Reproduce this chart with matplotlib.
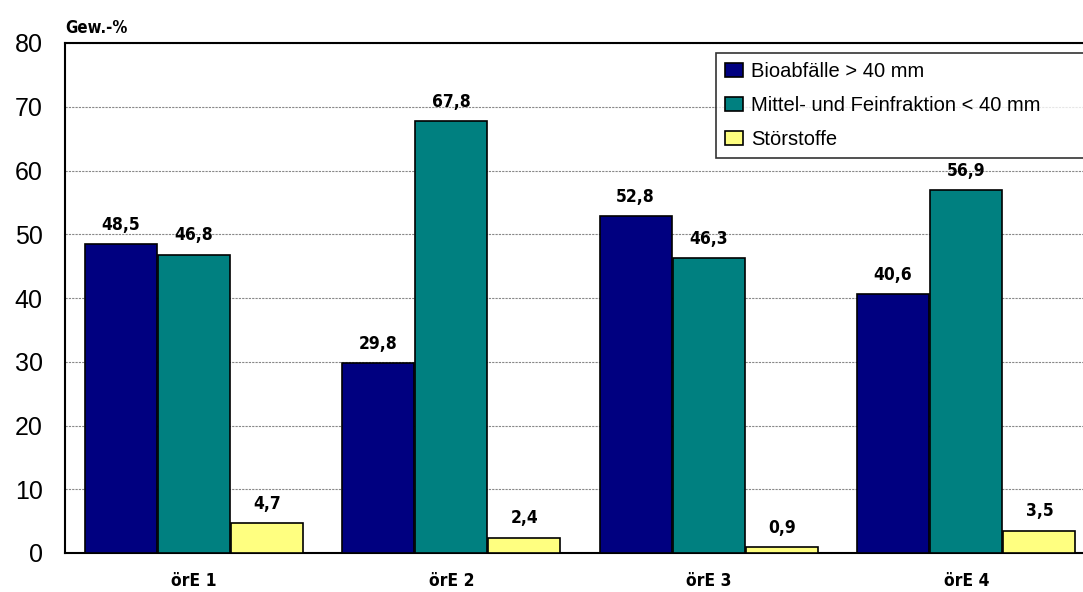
import matplotlib
matplotlib.use("Agg")
import matplotlib.pyplot as plt
from matplotlib import font_manager
import numpy as np

# data
gruppen = ["örE 1", "örE 2", "örE 3", "örE 4"]
serien = ["Bioabfälle > 40 mm", "Mittel- und Feinfraktion < 40 mm", "Störstoffe"]
bio = [48.5, 29.8, 52.8, 40.6]
mittel = [46.8, 67.8, 46.3, 56.9]
stoer = [4.7, 2.4, 0.9, 3.5]
farben = ["#000080", "#008080", "#FFFF80"]

plt.rcParams['font.family'] = ['Liberation Sans', 'DejaVu Sans']
namen = set(f.name for f in font_manager.fontManager.ttflist)
if 'Liberation Sans Narrow' in namen:
    narrow = dict(family=['Liberation Sans Narrow', 'DejaVu Sans'])
else:
    narrow = dict(family=['DejaVu Sans'], fontstretch='condensed')

fig = plt.figure(figsize=(10.83, 5.92), dpi=100)
ax = fig.add_axes([65/1083, 1-553/592, 1030/1083, 510/592])

x = np.arange(len(gruppen))
w = 0.284
werte = [bio, mittel, stoer]
for i, (vals, col, lab) in enumerate(zip(werte, farben, serien)):
    pos = x + (i-1)*w
    ax.bar(pos, vals, width=w*0.985, color=col, edgecolor='black', linewidth=1.2, label=lab, zorder=3)
    for px, v in zip(pos, vals):
        ax.text(px, v + 1.6, ("%.1f" % v).replace('.', ','), ha='center', va='bottom',
                fontsize=12.5, fontweight='bold', **narrow)

ax.set_xlim(-0.5, 3.5)
ax.set_ylim(0, 80)
ax.set_yticks(range(0, 81, 10))
ax.tick_params(axis='y', labelsize=18, length=0, pad=16)
ax.tick_params(axis='x', length=0, pad=14)
ax.set_xticks(x)
ax.set_xticklabels(gruppen, fontsize=12.5, fontweight='bold', **narrow)
ax.yaxis.grid(True, linestyle=(0, (2, 1)), color='#888888', linewidth=0.8, zorder=0)
for s in ax.spines.values():
    s.set_linewidth(1.5)
ax.spines['right'].set_visible(False)

fig.text(65/1083, 1-28/592, "Gew.-%", fontsize=12, fontweight='bold', va='center', **narrow)

# legend box runs past the right edge like in the original
x0 = (716-65)/1030
y0 = (553-53)/510
leg = ax.legend(loc='upper left', bbox_to_anchor=(x0, y0 - 0.01, (1100-716)/1030, 0.01),
                mode='expand', fontsize=14.5, frameon=True, fancybox=False, edgecolor='black',
                handlelength=0.9, handleheight=0.7, handletextpad=0.4, borderpad=0.45,
                labelspacing=0.75, borderaxespad=0)
leg.get_frame().set_linewidth(1.2)

fig.savefig("out.png", dpi=100)
